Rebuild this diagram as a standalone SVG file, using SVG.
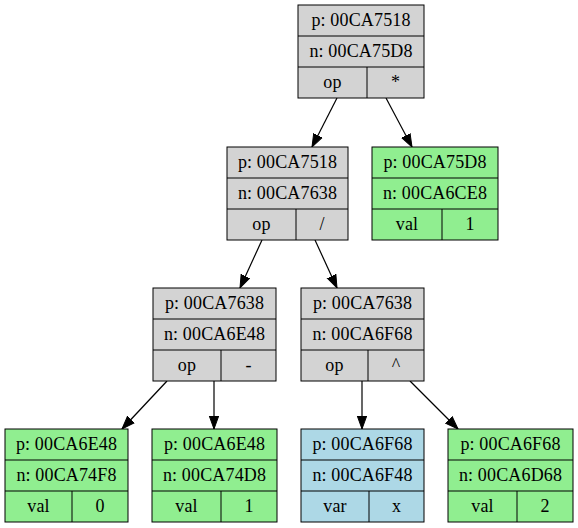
<svg xmlns="http://www.w3.org/2000/svg" width="578" height="528" viewBox="0 0 578 528">
<style>
text{font-family:"Liberation Serif","Times New Roman",serif;font-size:18px;letter-spacing:0.15px;text-anchor:middle;fill:#000}
.b{stroke:#000;stroke-width:1}
.g{fill:#d3d3d3}.lg{fill:#90ee90}.lb{fill:#add8e6}
.e{stroke:#000;stroke-width:1.2;fill:none;marker-end:url(#ah)}
</style>
<defs>
<marker id="ah" markerUnits="userSpaceOnUse" markerWidth="14" markerHeight="12" refX="13" refY="5" orient="auto" viewBox="0 0 14 10"><path d="M0,0.3 L13,5 L0,9.7 z" fill="#000" stroke="#000" stroke-width="1"/></marker>
</defs>
<g id="connectors">
<path class="e" d="M337,98 L312,147"/>
<path class="e" d="M386,98 L412,147"/>
<path class="e" d="M262,240 L240,288"/>
<path class="e" d="M315,240 L337,288"/>
<path class="e" d="M167,381 L122,429"/>
<path class="e" d="M214,381 L214,429"/>
<path class="e" d="M362,381 L362,429"/>
<path class="e" d="M410,381 L458,429"/>
</g>
<g id="n1">
<rect class="b g" x="298" y="5" width="126" height="93"/>
<path class="b" d="M298,36 H424 M298,67 H424 M367,67 V98"/>
<text x="361" y="26">p: 00CA7518</text>
<text x="361" y="57">n: 00CA75D8</text>
<text x="332.5" y="88">op</text>
<text x="395.5" y="88">*</text>
</g>
<g id="n2">
<rect class="b g" x="227" y="147" width="121" height="93"/>
<path class="b" d="M227,178 H348 M227,209 H348 M296,209 V240"/>
<text x="287.5" y="168">p: 00CA7518</text>
<text x="287.5" y="199">n: 00CA7638</text>
<text x="261.5" y="230">op</text>
<text x="322" y="230">/</text>
</g>
<g id="n3">
<rect class="b lg" x="372" y="147" width="126" height="93"/>
<path class="b" d="M372,178 H498 M372,209 H498 M442,209 V240"/>
<text x="435" y="168">p: 00CA75D8</text>
<text x="435" y="199">n: 00CA6CE8</text>
<text x="407" y="230">val</text>
<text x="470" y="230">1</text>
</g>
<g id="n4">
<rect class="b g" x="153" y="288" width="123" height="93"/>
<path class="b" d="M153,319 H276 M153,350 H276 M221,350 V381"/>
<text x="214.5" y="309">p: 00CA7638</text>
<text x="214.5" y="340">n: 00CA6E48</text>
<text x="187" y="371">op</text>
<text x="248.5" y="371">-</text>
</g>
<g id="n5">
<rect class="b g" x="301" y="288" width="123" height="93"/>
<path class="b" d="M301,319 H424 M301,350 H424 M368,350 V381"/>
<text x="362.5" y="309">p: 00CA7638</text>
<text x="362.5" y="340">n: 00CA6F68</text>
<text x="334.5" y="371">op</text>
<text x="396" y="371">^</text>
</g>
<g id="n6">
<rect class="b lg" x="5" y="429" width="123" height="93"/>
<path class="b" d="M5,460 H128 M5,491 H128 M72,491 V522"/>
<text x="66.5" y="450">p: 00CA6E48</text>
<text x="66.5" y="481">n: 00CA74F8</text>
<text x="38.5" y="512">val</text>
<text x="100" y="512">0</text>
</g>
<g id="n7">
<rect class="b lg" x="152" y="429" width="125" height="93"/>
<path class="b" d="M152,460 H277 M152,491 H277 M221,491 V522"/>
<text x="214.5" y="450">p: 00CA6E48</text>
<text x="214.5" y="481">n: 00CA74D8</text>
<text x="186.5" y="512">val</text>
<text x="249" y="512">1</text>
</g>
<g id="n8">
<rect class="b lb" x="301" y="429" width="123" height="93"/>
<path class="b" d="M301,460 H424 M301,491 H424 M369,491 V522"/>
<text x="362.5" y="450">p: 00CA6F68</text>
<text x="362.5" y="481">n: 00CA6F48</text>
<text x="335" y="512">var</text>
<text x="396.5" y="512">x</text>
</g>
<g id="n9">
<rect class="b lg" x="448" y="429" width="125" height="93"/>
<path class="b" d="M448,460 H573 M448,491 H573 M517,491 V522"/>
<text x="510.5" y="450">p: 00CA6F68</text>
<text x="510.5" y="481">n: 00CA6D68</text>
<text x="482.5" y="512">val</text>
<text x="545" y="512">2</text>
</g>
</svg>
